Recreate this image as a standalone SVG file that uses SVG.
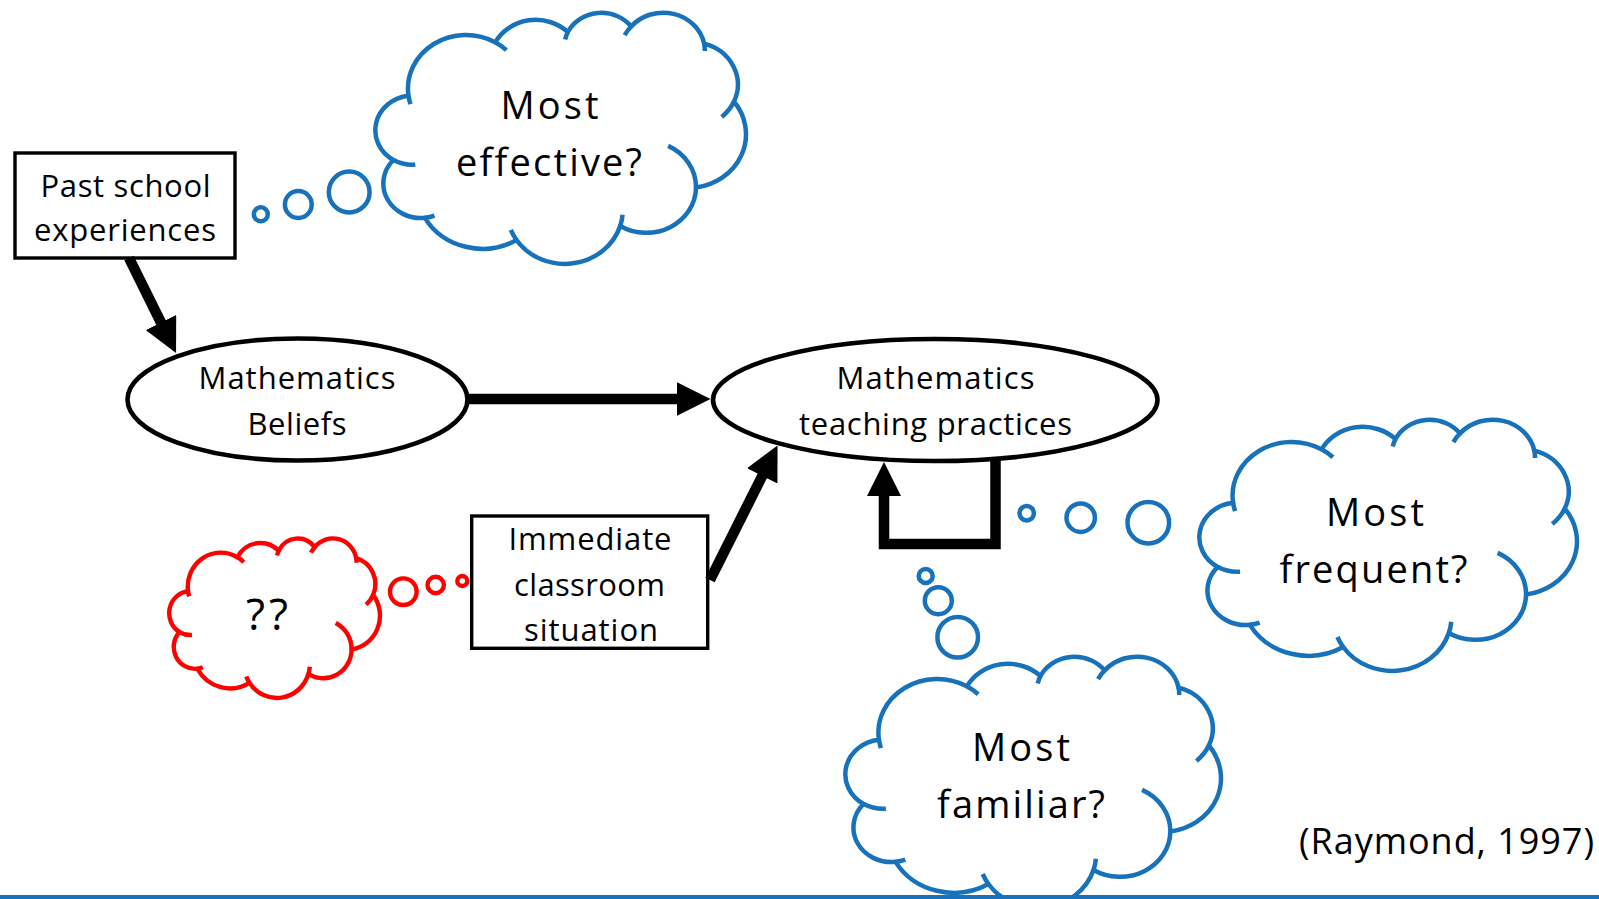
<svg xmlns="http://www.w3.org/2000/svg" xmlns:xlink="http://www.w3.org/1999/xlink" width="1599" height="899" viewBox="0 0 1599 899">
  <style>
    .label { font-family: "Open Sans", Lato, "Liberation Sans", sans-serif; fill: #000; text-anchor: middle; font-variant-ligatures: none; font-feature-settings: "liga" 0, "clig" 0, "dlig" 0; }
    .small { font-size: 31px; }
    .big { font-size: 38px; }
    .cite { font-size: 36px; }
    .node { fill: #fff; stroke: #000; }
    .box { stroke-width: 3.4; }
    .oval { stroke-width: 4.6; }
    .cloud-body { fill: #fff; vector-effect: non-scaling-stroke; stroke-linejoin: round; }
    .cloud-hooks { fill: none; vector-effect: non-scaling-stroke; }
    .blue { stroke: #1772BB; stroke-width: 4.5; }
    .red { stroke: #FF0000; stroke-width: 4.4; }
    .bubble { fill: #fff; }
    .link { fill: none; stroke: #000; stroke-width: 10.5; }
  </style>
  <defs>
    <!-- thought cloud drawn in a 432 x 432 box, stretched per instance -->
    <g id="cloud-shape">
      <path class="cloud-body" d="M 39 143.7 A 67.53 91.9 0 0 1 140.05 52.02 A 53.33 72.67 0 0 1 224.56 34.32 A 43.65 59.45 0 0 1 298.33 24.8 A 48.57 65.95 0 0 1 383.24 54.26 A 53.33 72.73 0 0 1 417.98 153.54 A 67.75 92.2 0 0 1 373.82 300.94 A 57.85 78.67 0 0 1 285.45 366.8 A 67.52 92.15 0 0 1 164.78 390.9 A 77.2 105.43 0 0 1 58.1 352.88 A 43.6 59.18 0 0 1 21.4 253.7 A 43.45 59.45 0 0 1 39 143.7 Z"/>
      <path class="cloud-hooks" d="M 46.93 261.77 A 43.45 59.45 0 0 1 21.59 253.8 M 69.28 348.99 A 43.6 59.18 0 0 1 58.19 352.81 M 164.78 390.9 A 67.52 92.15 0 0 1 158.17 373.71 M 288.27 347.51 A 67.52 92.15 0 0 1 285.6 366.59 M 341.29 229.54 A 57.85 78.67 0 0 1 373.8 300.9 M 417.98 153.54 A 53.33 72.73 0 0 1 403.76 179.86 M 383.24 54.26 A 48.57 65.95 0 0 1 384.0 66.9 M 290.78 39.52 A 48.57 65.95 0 0 1 298.33 24.8 M 221.41 47.2 A 43.65 59.45 0 0 1 224.56 34.32 M 140.0 51.92 A 67.53 91.9 0 0 1 153.05 65.5 M 41.27 157.89 A 67.53 91.9 0 0 1 39 143.7"/>
    </g>
    <marker id="head" viewBox="0 0 34 34" refX="1" refY="17" markerWidth="34" markerHeight="34" markerUnits="userSpaceOnUse" orient="auto">
      <path d="M0,0 L34,17 L0,34 Z" fill="#000"/>
    </marker>
  </defs>

  <rect width="1599" height="899" fill="#fff"/>

  <!-- thought clouds -->
  <g id="cloud-effective">
    <use xlink:href="#cloud-shape" class="blue" transform="translate(375,12) scale(0.8588,0.5833)"/>
    <circle class="bubble blue" cx="260.8" cy="214.3" r="7"/>
    <circle class="bubble blue" cx="298.3" cy="204.5" r="13.4"/>
    <circle class="bubble blue" cx="349.2" cy="192" r="20.4"/>
    <text class="label big" x="549.5" y="118.5" textLength="98">Most</text>
    <text class="label big" x="549" y="175.5" textLength="186">effective?</text>
  </g>

  <g id="cloud-frequent">
    <use xlink:href="#cloud-shape" class="blue" transform="translate(1199,419) scale(0.8750,0.5833)"/>
    <circle class="bubble blue" cx="1026.7" cy="513.3" r="7.2"/>
    <circle class="bubble blue" cx="1080.7" cy="517.7" r="14.2"/>
    <circle class="bubble blue" cx="1148.3" cy="522.7" r="20.8"/>
    <text class="label big" x="1375" y="526" textLength="98">Most</text>
    <text class="label big" x="1373.5" y="582.5" textLength="188">frequent?</text>
  </g>

  <g id="cloud-familiar">
    <use xlink:href="#cloud-shape" class="blue" transform="translate(845,656) scale(0.8704,0.5833)"/>
    <circle class="bubble blue" cx="925.7" cy="576" r="7"/>
    <circle class="bubble blue" cx="938.3" cy="600.7" r="13.5"/>
    <circle class="bubble blue" cx="957.7" cy="637.3" r="20.3"/>
    <text class="label big" x="1021" y="760.5" textLength="98">Most</text>
    <text class="label big" x="1021" y="817.5" textLength="168">familiar?</text>
  </g>

  <g id="cloud-unknown">
    <use xlink:href="#cloud-shape" class="red" transform="translate(169,538) scale(0.4884,0.3704)"/>
    <circle class="bubble red" cx="403.3" cy="591.7" r="13.3"/>
    <circle class="bubble red" cx="435.7" cy="585" r="8.2"/>
    <circle class="bubble red" cx="462.3" cy="581" r="5"/>
    <text class="label" x="267" y="630" font-size="44" textLength="42">??</text>
  </g>

  <!-- nodes -->
  <g id="past-school">
    <rect class="node box" x="15" y="153" width="220" height="105"/>
    <text class="label small" x="125.5" y="197" textLength="170">Past school</text>
    <text class="label small" x="125" y="241" textLength="182">experiences</text>
  </g>

  <g id="math-beliefs">
    <ellipse class="node oval" cx="297.5" cy="399.5" rx="170" ry="61"/>
    <text class="label small" x="297" y="388.5" textLength="197">Mathematics</text>
    <text class="label small" x="297" y="435" textLength="99">Beliefs</text>
  </g>

  <g id="teaching-practices">
    <ellipse class="node oval" cx="935.25" cy="400" rx="222.25" ry="61"/>
    <text class="label small" x="935.5" y="389" textLength="198">Mathematics</text>
    <text class="label small" x="935.5" y="434.5" textLength="273">teaching practices</text>
  </g>

  <g id="immediate-situation">
    <rect class="node box" x="471.7" y="516" width="236" height="132.3"/>
    <text class="label small" x="590" y="549.5" textLength="163">Immediate</text>
    <text class="label small" x="589.5" y="596" textLength="151">classroom</text>
    <text class="label small" x="591" y="641" textLength="134">situation</text>
  </g>

  <!-- connectors -->
  <g id="connectors">
    <line class="link" x1="129" y1="258" x2="161.4" y2="323.4" marker-end="url(#head)"/>
    <line class="link" x1="467" y1="399" x2="677.5" y2="399" marker-end="url(#head)"/>
    <line class="link" x1="710" y1="580" x2="762.7" y2="475" marker-end="url(#head)"/>
    <path class="link" d="M 995.5 459 V 544 H 884 V 495" stroke-linejoin="miter" marker-end="url(#head)"/>
  </g>

  <text id="citation" class="label cite" x="1446.5" y="854" textLength="295">(Raymond, 1997)</text>

  <rect id="footer-rule" x="0" y="895" width="1599" height="4" fill="#1772BB"/>
</svg>
